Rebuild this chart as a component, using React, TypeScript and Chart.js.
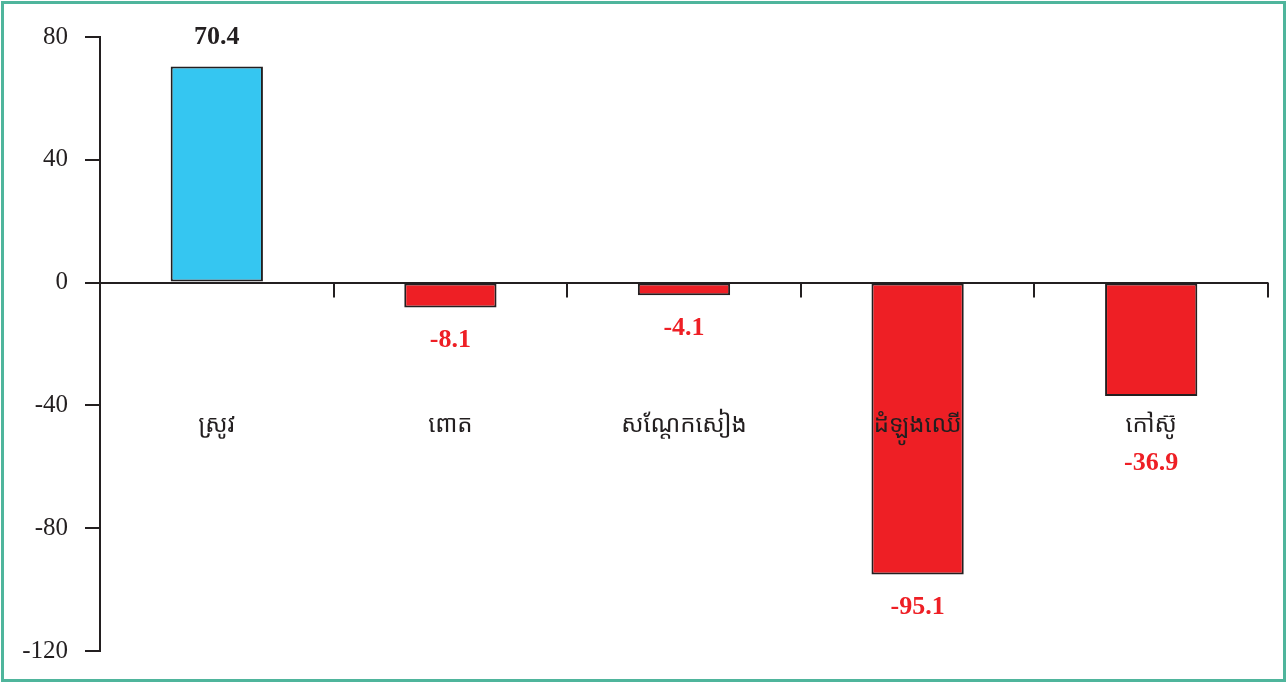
import React, { useEffect, useRef } from "react";
import { Chart, registerables } from "chart.js";

Chart.register(...registerables);

const categories = ["ស្រូវ", "ពោត", "សណ្តែកសៀង", "ដំឡូងឈើ", "កៅស៊ូ"];
const values = [70.4, -8.1, -4.1, -95.1, -36.9];
const valueLabels = ["70.4", "-8.1", "-4.1", "-95.1", "-36.9"];
const yMin = -120;
const yMax = 80;
const yStep = 40;

const BLUE = "#35c6f1";
const RED = "#ee1f25";
const INK = "#231f20";
const SERIF = '"Liberation Serif", "DejaVu Serif", serif';
const KHMER = '"Noto Sans Khmer", "Noto Serif Khmer", "Khmer OS", "Khmer OS System", "DejaVu Sans", sans-serif';

const overlay = {
  id: "overlay",
  afterDatasetsDraw(chart: any) {
    const { ctx, scales } = chart;
    const x = scales.x;
    const y = scales.y;
    const zeroY = y.getPixelForValue(0);
    const step = x.getPixelForValue(1) - x.getPixelForValue(0);
    ctx.save();
    // boundary tick marks below the zero line
    ctx.strokeStyle = INK;
    ctx.lineWidth = 2;
    for (let i = 0; i < categories.length; i++) {
      const bx = Math.round(x.getPixelForValue(i) + step / 2);
      ctx.beginPath();
      ctx.moveTo(bx, zeroY);
      ctx.lineTo(bx, zeroY + 15);
      ctx.stroke();
    }
    // category labels
    const catY = zeroY + 143;
    ctx.textAlign = "center";
    ctx.textBaseline = "middle";
    ctx.fillStyle = INK;
    ctx.font = `24px ${KHMER}`;
    categories.forEach((c, i) => {
      ctx.fillText(c, x.getPixelForValue(i), catY);
    });
    // value labels
    ctx.font = `bold 26px ${SERIF}`;
    values.forEach((v, i) => {
      const end = y.getPixelForValue(v);
      let ly: number;
      if (v >= 0) {
        ctx.fillStyle = INK;
        ly = end - 29;
      } else {
        ctx.fillStyle = RED;
        ly = end + 33;
        if (ly > catY - 25 && ly < catY + 25) ly = catY + 38;
      }
      ctx.fillText(valueLabels[i], x.getPixelForValue(i), ly);
    });
    ctx.restore();
  },
};

export default function App() {
  const ref = useRef<HTMLCanvasElement | null>(null);
  useEffect(() => {
    if (!ref.current) return;
    const chart = new Chart(ref.current, {
      type: "bar",
      data: {
        labels: categories,
        datasets: [
          {
            data: values,
            backgroundColor: values.map((v) => (v >= 0 ? BLUE : RED)),
            borderColor: INK,
            borderWidth: 2,
            borderSkipped: false,
            barPercentage: 0.395,
            categoryPercentage: 1,
          },
        ],
      },
      options: {
        responsive: false,
        animation: false,
        layout: { padding: { left: 0, right: 20, top: 37, bottom: 35 } },
        plugins: { legend: { display: false }, tooltip: { enabled: false } },
        scales: {
          x: { display: false },
          y: {
            min: yMin,
            max: yMax,
            afterFit: (s: any) => {
              s.width = 100;
            },
            ticks: {
              stepSize: yStep,
              padding: 17,
              color: INK,
              font: { family: SERIF, size: 25 },
            },
            border: { display: true, color: INK, width: 2 },
            grid: {
              drawOnChartArea: true,
              color: (c: any) => (c.tick && c.tick.value === 0 ? INK : "rgba(0,0,0,0)"),
              lineWidth: 2,
              tickColor: INK,
              tickLength: 15,
            },
          },
        },
      },
      plugins: [overlay],
    });
    return () => chart.destroy();
  }, []);
  return (
    <div style={{ position: "absolute", left: 0, top: 0, width: 1288, height: 686, background: "#fff" }}>
      <div
        style={{
          position: "absolute",
          left: 1,
          top: 1,
          width: 1285,
          height: 681,
          boxSizing: "border-box",
          border: "3px solid #4fb59c",
        }}
      />
      <canvas ref={ref} width={1288} height={686} style={{ position: "absolute", left: 0, top: 0 }} />
    </div>
  );
}
